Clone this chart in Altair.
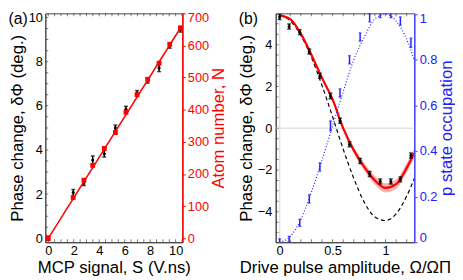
import altair as alt
import pandas as pd

FONT = "Liberation Sans"
FRAME = "#444444"
RED = "#ff0000"
BLUE = "#2020ff"
BLUE_AX = "#4a4aff"

# ---------------- Panel (a) data ----------------
S = [0.0, 1.96, 2.80, 3.49, 4.40, 5.27, 6.10, 6.97, 7.81, 8.70, 9.54, 10.38]
phase_a = [0.0, 2.07, 2.51, 3.54, 3.83, 5.00, 5.85, 6.57, 7.15, 7.71, 8.73, 9.46]
phase_a_err = [0.10, 0.14, 0.12, 0.19, 0.15, 0.13, 0.13, 0.12, 0.12, 0.16, 0.12, 0.12]
atoms = [0, 127, 181, 227, 280, 329, 392, 447, 495, 545, 604, 655]
fit_S = [0.0, 10.45]
fit_N = [0, 659]

# ---------------- Panel (b) data ----------------
omega = [0.0, 0.09, 0.19, 0.28, 0.38, 0.48, 0.57, 0.66, 0.76, 0.85, 0.95, 1.05, 1.14, 1.24]
phase_b = [5.32, 4.87, 4.60, 3.67, 2.51, 1.54, 0.36, -0.77, -1.57, -2.19, -2.55, -2.55, -2.45, -1.31]
phase_b_err = [0.12, 0.12, 0.12, 0.12, 0.12, 0.13, 0.12, 0.12, 0.12, 0.12, 0.12, 0.12, 0.12, 0.12]
p_occ = [0.005, 0.014, 0.085, 0.19, 0.33, 0.51, 0.655, 0.80, 0.90, 0.985, 1.0, 1.0, 0.97, 0.875]
p_err = [0.010, 0.012, 0.015, 0.018, 0.018, 0.022, 0.018, 0.018, 0.018, 0.018, 0.015, 0.015, 0.018, 0.020]

curve_omega = [0.0, 0.1, 0.2, 0.3, 0.4, 0.5, 0.6, 0.7, 0.8, 0.9, 1.0, 1.1, 1.2, 1.27]
red_fit = [5.40, 5.22, 4.53, 3.52, 2.41, 1.38, 0.00, -1.05, -1.86, -2.50, -2.86, -2.68, -1.90, -1.20]
red_band = [0.04, 0.05, 0.06, 0.07, 0.08, 0.10, 0.12, 0.15, 0.18, 0.21, 0.22, 0.22, 0.22, 0.22]
dashed = [5.40, 5.15, 4.45, 3.40, 2.05, 0.55, -1.00, -2.40, -3.55, -4.25, -4.42, -4.10, -3.25, -2.42]
p_curve = [0.0, 0.025, 0.10, 0.22, 0.36, 0.51, 0.66, 0.80, 0.90, 0.98, 1.0, 0.97, 0.89, 0.80]

# axis tick positions
a_x_labels = [0, 2, 4, 6, 8, 10]
a_y_labels = [0, 2, 4, 6, 8, 10]
a_n_labels = [0, 100, 200, 300, 400, 500, 600, 700]
a_minor_x = [i * 0.5 for i in range(22)]
a_minor_y = [i * 0.5 for i in range(21)]
b_x_labels = [0, 0.5, 1]
b_y_labels = [-4, -2, 0, 2, 4]
b_p_labels = [0, 0.2, 0.4, 0.6, 0.8, 1]
b_minor_x = [i * 0.1 for i in range(13)]
b_minor_y = [-5 + i * 0.5 for i in range(21)]

XA = [-0.23, 10.53]
YA = [-0.18, 10.19]
NA = [-12, 700]
XB = [-0.037, 1.271]
YB = [-5.46, 5.5]
PB = [0, 1.004]

W_A, W_B, H = 139.5, 141, 233

xsc_a = alt.Scale(domain=XA, nice=False, zero=False)
ysc_a = alt.Scale(domain=YA, nice=False, zero=False)
nsc_a = alt.Scale(domain=NA, nice=False, zero=False)
xsc_b = alt.Scale(domain=XB, nice=False, zero=False)
ysc_b = alt.Scale(domain=YB, nice=False, zero=False)
psc_b = alt.Scale(domain=PB, nice=False, zero=False)

x_axis_a = alt.Axis(values=a_x_labels, title="MCP signal, S  (V.ns)", ticks=False,
                    labelPadding=3, titleY=26, titleBaseline="middle", domainColor=FRAME)
y_axis_a = alt.Axis(values=a_y_labels, title="Phase change, δΦ (deg.)", ticks=False,
                    labelPadding=3, titleX=-28, titleAngle=270, titleBaseline="middle",
                    domainColor=FRAME)
n_axis_a = alt.Axis(orient="right", values=a_n_labels, title="Atom number, N",
                    tickSize=3, tickColor=RED, domainColor=RED, domainWidth=1.5,
                    labelColor=RED, titleColor=RED, labelPadding=2, labelFlush=True,
                    labelFlushOffset=2, titleX=37, titleAngle=270, titleBaseline="middle")
x_axis_b = alt.Axis(values=b_x_labels, format="~g", title="Drive pulse amplitude, Ω/ΩΠ",
                    ticks=False, labelPadding=3, titleY=26, titleBaseline="middle",
                    domainColor=FRAME)
y_axis_b = alt.Axis(values=b_y_labels, title="Phase change, δΦ (deg.)", ticks=False,
                    labelPadding=4, titleX=-30, titleAngle=270, titleBaseline="middle",
                    domainColor=FRAME)
p_axis_b = alt.Axis(orient="right", values=b_p_labels, format="~g", title="p state occupation",
                    tickSize=3, tickColor=BLUE_AX, domainColor=BLUE_AX, domainWidth=1.5,
                    labelColor=BLUE, titleColor=BLUE, labelPadding=2, labelFlush=True,
                    labelFlushOffset=2, titleX=32.5, titleAngle=270, titleBaseline="middle")

XA_T = "MCP signal, S  (V.ns)"
YA_T = "Phase change, δΦ (deg.)"
NA_T = "Atom number, N"
XB_T = "Drive pulse amplitude, Ω/ΩΠ"
YB_T = "Phase change, δΦ (deg.)"
PB_T = "p state occupation"


def xf(field, sc, ax, t):
    return alt.X(field, type="quantitative", scale=sc, axis=ax, title=t)


def yf(field, sc, ax, t):
    return alt.Y(field, type="quantitative", scale=sc, axis=ax, title=t)


def inward_ticks(vals, xsc, xax, xt, ysc, yax, yt, side, at, size=6):
    df = pd.DataFrame({"v": vals})
    if side == "y":
        return alt.Chart(df).mark_tick(orient="horizontal", size=size, thickness=1,
                                       color=FRAME, clip=True).encode(
            x=alt.XDatum(at, type="quantitative", scale=xsc, axis=xax, title=xt),
            y=yf("v", ysc, yax, yt))
    return alt.Chart(df).mark_tick(orient="vertical", size=size, thickness=1,
                                   color=FRAME, clip=True).encode(
        x=xf("v", xsc, xax, xt),
        y=alt.YDatum(at, type="quantitative", scale=ysc, axis=yax, title=yt))


def panel_label(txt):
    return alt.Chart(pd.DataFrame({"t": [txt]})).mark_text(
        align="left", baseline="top", fontSize=16, font=FONT, color="black").encode(
        x=alt.value(-37.5), y=alt.value(-2), text="t:N")


# ---------------- Panel (a) ----------------
df_a = pd.DataFrame({
    "S": S, "phase": phase_a, "atoms": atoms,
    "lo": [p - e for p, e in zip(phase_a, phase_a_err)],
    "hi": [p + e for p, e in zip(phase_a, phase_a_err)],
})
df_fit = pd.DataFrame({"S": fit_S, "N": fit_N})

XAe = dict(sc=xsc_a, ax=x_axis_a, t=XA_T)
YAe = dict(sc=ysc_a, ax=y_axis_a, t=YA_T)
NAe = dict(sc=nsc_a, ax=n_axis_a, t=NA_T)

err_a = alt.Chart(df_a).mark_errorbar(color="black", thickness=1.5,
                                      ticks={"size": 4, "thickness": 1.5}).encode(
    x=xf("S", **XAe), y=yf("lo", **YAe), y2=alt.Y2("hi:Q"))
pts_a = alt.Chart(df_a).mark_point(filled=True, size=10, color="black", opacity=1).encode(
    x=xf("S", **XAe), y=yf("phase", **YAe))

phase_group_a = alt.layer(
    inward_ticks(a_minor_y, xsc_a, x_axis_a, XA_T, ysc_a, y_axis_a, YA_T, "y", XA[0]),
    inward_ticks(a_minor_x, xsc_a, x_axis_a, XA_T, ysc_a, y_axis_a, YA_T, "x", YA[0]),
    inward_ticks(a_minor_x, xsc_a, x_axis_a, XA_T, ysc_a, y_axis_a, YA_T, "x", YA[1]),
    err_a, pts_a, panel_label("(a)"))

line_a = alt.Chart(df_fit).mark_line(color=RED, strokeWidth=1.5).encode(
    x=xf("S", **XAe), y=yf("N", **NAe))
sq_a = alt.Chart(df_a).mark_square(size=24, color=RED, opacity=1).encode(
    x=xf("S", **XAe), y=yf("atoms", **NAe))
n_group_a = alt.layer(line_a, sq_a)

panel_a = alt.layer(phase_group_a, n_group_a).resolve_scale(y="independent").properties(
    width=W_A, height=H)

# ---------------- Panel (b) ----------------
df_b = pd.DataFrame({
    "om": omega, "phase": phase_b, "p": p_occ,
    "lo": [v - e for v, e in zip(phase_b, phase_b_err)],
    "hi": [v + e for v, e in zip(phase_b, phase_b_err)],
    "plo": [v - e for v, e in zip(p_occ, p_err)],
    "phi": [v + e for v, e in zip(p_occ, p_err)],
})
df_c = pd.DataFrame({
    "om": curve_omega, "red": red_fit, "dash": dashed, "pc": p_curve,
    "blo": [v - e for v, e in zip(red_fit, red_band)],
    "bhi": [v + e for v, e in zip(red_fit, red_band)],
})
df_zero = pd.DataFrame({"z": [0]})

XBe = dict(sc=xsc_b, ax=x_axis_b, t=XB_T)
YBe = dict(sc=ysc_b, ax=y_axis_b, t=YB_T)
PBe = dict(sc=psc_b, ax=p_axis_b, t=PB_T)

zero_h = alt.Chart(df_zero).mark_rule(color="#e3e3e3", strokeWidth=1.5).encode(
    y=yf("z", **YBe))
zero_v = alt.Chart(df_zero).mark_rule(color="#e3e3e3", strokeWidth=1.5).encode(
    x=xf("z", **XBe))
band = alt.Chart(df_c).mark_area(color="#ff7070", opacity=0.55, interpolate="monotone",
                                 clip=True).encode(
    x=xf("om", **XBe), y=yf("blo", **YBe), y2=alt.Y2("bhi:Q"))
dash_line = alt.Chart(df_c).mark_line(color="black", strokeWidth=1.2, strokeDash=[4, 3],
                                      interpolate="monotone", clip=True).encode(
    x=xf("om", **XBe), y=yf("dash", **YBe))
red_line = alt.Chart(df_c).mark_line(color=RED, strokeWidth=2.2, interpolate="monotone",
                                     clip=True).encode(
    x=xf("om", **XBe), y=yf("red", **YBe))
err_b = alt.Chart(df_b).mark_errorbar(color="black", thickness=1.5, clip=True,
                                      ticks={"size": 4, "thickness": 1.5}).encode(
    x=xf("om", **XBe), y=yf("lo", **YBe), y2=alt.Y2("hi:Q"))
pts_b = alt.Chart(df_b).mark_point(filled=True, size=10, color="black", opacity=1).encode(
    x=xf("om", **XBe), y=yf("phase", **YBe))

phase_group_b = alt.layer(
    zero_h, zero_v,
    inward_ticks(b_minor_y, xsc_b, x_axis_b, XB_T, ysc_b, y_axis_b, YB_T, "y", XB[0]),
    inward_ticks(b_minor_x, xsc_b, x_axis_b, XB_T, ysc_b, y_axis_b, YB_T, "x", YB[0]),
    inward_ticks(b_minor_x, xsc_b, x_axis_b, XB_T, ysc_b, y_axis_b, YB_T, "x", YB[1]),
    band, dash_line, red_line, err_b, pts_b, panel_label("(b)"))

p_line = alt.Chart(df_c).mark_line(color=BLUE, strokeWidth=1.2, strokeDash=[1, 2],
                                   interpolate="monotone", clip=True).encode(
    x=xf("om", **XBe), y=yf("pc", **PBe))
p_err_bars = alt.Chart(df_b).mark_errorbar(color=BLUE, thickness=1.5, clip=True,
                                           ticks={"size": 3, "thickness": 1.3}).encode(
    x=xf("om", **XBe), y=yf("plo", **PBe), y2=alt.Y2("phi:Q"))
p_group_b = alt.layer(p_line, p_err_bars)

panel_b = alt.layer(phase_group_b, p_group_b).resolve_scale(y="independent").properties(
    width=W_B, height=H)

chart = alt.hconcat(panel_a, panel_b, spacing=94.5, bounds="flush").properties(
    padding=0
).configure_axis(
    labelFont=FONT, titleFont=FONT, labelFontSize=13, titleFontSize=17,
    titleFontWeight="normal", labelColor="black", titleColor="black", grid=False,
    domainWidth=1
).configure_view(stroke=FRAME, strokeWidth=1)

chart.save("out.html", embed_options={"renderer": "svg", "actions": False})
